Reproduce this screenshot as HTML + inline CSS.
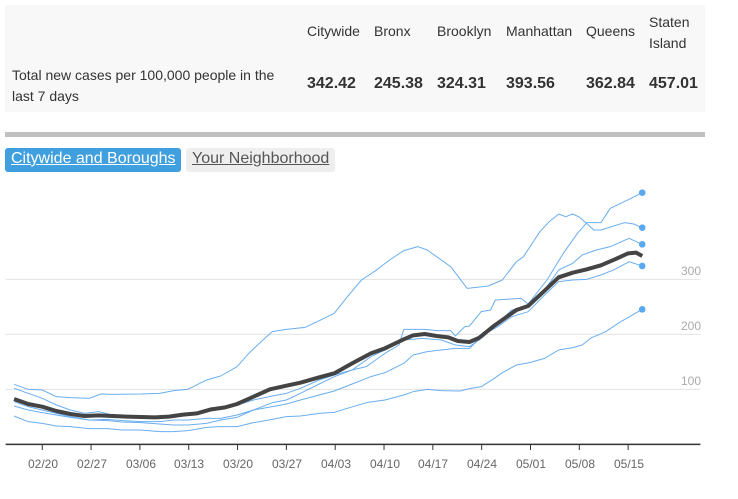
<!DOCTYPE html>
<html><head><style>
body{margin:0;width:738px;height:499px;background:#fff;font-family:"Liberation Sans",sans-serif;position:relative;overflow:hidden;color:#333}
.p{position:absolute;white-space:nowrap}
.h{font-size:14px;color:#333}
.v{font-size:16px;font-weight:bold;color:#333}
</style></head><body>
<div class="p" style="left:5px;top:5px;width:700px;height:107px;background:#f8f8f8"></div>
<div class="p h" style="left:307px;top:23px">Citywide</div>
<div class="p h" style="left:374px;top:23px">Bronx</div>
<div class="p h" style="left:437px;top:23px">Brooklyn</div>
<div class="p h" style="left:506px;top:23px">Manhattan</div>
<div class="p h" style="left:586px;top:23px">Queens</div>
<div class="p h" style="left:649px;top:12px;line-height:21px">Staten<br>Island</div>
<div class="p h" style="left:12px;top:65px;line-height:21px">Total new cases per 100,000 people in the<br>last 7 days</div>
<div class="p v" style="left:307px;top:75px">342.42</div>
<div class="p v" style="left:374px;top:75px">245.38</div>
<div class="p v" style="left:437px;top:75px">324.31</div>
<div class="p v" style="left:506px;top:75px">393.56</div>
<div class="p v" style="left:586px;top:75px">362.84</div>
<div class="p v" style="left:649px;top:75px">457.01</div>
<div class="p" style="left:5px;top:132px;width:700px;height:5px;background:#c0c0c0"></div>
<div class="p" style="left:5px;top:148px;width:176px;height:24px;background:#3f9fdf;border-radius:3px"></div>
<div class="p" style="left:11px;top:150px;font-size:16px;color:#fff;text-decoration:underline">Citywide and Boroughs</div>
<div class="p" style="left:186px;top:148px;width:149px;height:24px;background:#eee;border-radius:3px"></div>
<div class="p" style="left:192px;top:150px;font-size:16px;color:#555;text-decoration:underline">Your Neighborhood</div>

<svg class="p" style="left:0;top:180px" width="738" height="319" viewBox="0 0 1572 957" preserveAspectRatio="none">
<g stroke="#e3e3e3" stroke-width="1">
<line x1="12" x2="1492" y1="298" y2="298" vector-effect="non-scaling-stroke"/>
<line x1="12" x2="1492" y1="463" y2="463" vector-effect="non-scaling-stroke"/>
<line x1="12" x2="1492" y1="628" y2="628" vector-effect="non-scaling-stroke"/>
</g>
<line x1="12" x2="1492" y1="793" y2="793" stroke="#333" stroke-width="1.5" vector-effect="non-scaling-stroke"/>
<g stroke="#333" stroke-width="1">
<line x1="90" x2="90" y1="793" y2="810" vector-effect="non-scaling-stroke"/><line x1="194" x2="194" y1="793" y2="810" vector-effect="non-scaling-stroke"/><line x1="298" x2="298" y1="793" y2="810" vector-effect="non-scaling-stroke"/><line x1="402" x2="402" y1="793" y2="810" vector-effect="non-scaling-stroke"/><line x1="506" x2="506" y1="793" y2="810" vector-effect="non-scaling-stroke"/><line x1="610" x2="610" y1="793" y2="810" vector-effect="non-scaling-stroke"/><line x1="714" x2="714" y1="793" y2="810" vector-effect="non-scaling-stroke"/><line x1="818" x2="818" y1="793" y2="810" vector-effect="non-scaling-stroke"/><line x1="922" x2="922" y1="793" y2="810" vector-effect="non-scaling-stroke"/><line x1="1026" x2="1026" y1="793" y2="810" vector-effect="non-scaling-stroke"/><line x1="1130" x2="1130" y1="793" y2="810" vector-effect="non-scaling-stroke"/><line x1="1234" x2="1234" y1="793" y2="810" vector-effect="non-scaling-stroke"/><line x1="1338" x2="1338" y1="793" y2="810" vector-effect="non-scaling-stroke"/>
</g>
<g fill="none" stroke="#6aaef0" stroke-width="1" stroke-linejoin="round">
<polyline vector-effect="non-scaling-stroke" points="30,708 60,725 90,730 120,738 150,740 190,746 230,746 260,750 300,750 340,755 370,755 400,752 440,742 470,740 505,740 540,728 580,718 610,710 640,708 680,700 712,697 740,685 780,668 820,660 860,645 880,635 910,628 940,632 980,633 1000,626 1025,620 1050,598 1070,578 1100,555 1130,547 1160,535 1190,510 1220,503 1240,495 1260,473 1290,455 1320,427 1368,388"/>
<polyline vector-effect="non-scaling-stroke" points="30,613 60,628 90,630 120,650 150,653 190,655 215,642 240,643 300,642 340,640 370,632 400,628 440,600 470,588 505,560 530,520 560,480 580,455 610,448 650,442 680,422 712,400 740,350 770,300 800,272 830,240 860,212 890,200 910,210 940,240 960,260 995,325 1040,318 1070,300 1100,245 1115,230 1150,155 1170,125 1190,102 1205,110 1220,102 1235,112 1265,150 1280,150 1330,128 1350,132 1368,143"/>
<polyline vector-effect="non-scaling-stroke" points="30,678 60,690 90,698 120,705 150,712 190,720 230,722 260,726 300,728 340,732 370,735 400,735 440,730 470,720 505,712 540,690 580,668 610,660 640,640 680,612 712,590 750,570 780,560 820,520 850,495 860,448 905,448 930,452 960,452 970,468 990,440 1000,438 1025,395 1045,390 1055,360 1110,355 1125,372 1165,300 1200,220 1230,160 1250,128 1280,128 1300,85 1340,58 1368,38"/>
<polyline vector-effect="non-scaling-stroke" points="30,625 60,640 90,655 120,675 150,690 180,700 210,695 240,705 300,712 340,715 380,710 410,700 440,690 470,685 505,675 540,660 580,648 610,640 640,625 680,600 712,585 750,570 790,530 820,510 860,480 900,475 940,480 970,495 1000,500 1030,470 1060,430 1090,390 1125,380 1160,330 1190,270 1220,250 1240,225 1270,210 1300,200 1340,175 1368,193"/>
<polyline vector-effect="non-scaling-stroke" points="30,665 60,680 90,690 120,700 150,710 190,720 230,718 260,722 300,725 340,725 370,720 400,720 440,715 470,715 505,705 540,690 580,680 610,672 640,660 680,645 712,633 750,612 790,590 820,578 860,550 880,525 910,515 940,510 970,505 1000,505 1030,465 1060,440 1090,410 1125,395 1160,345 1190,305 1220,300 1250,298 1280,285 1310,268 1340,245 1368,258"/>
</g>
<polyline vector-effect="non-scaling-stroke" fill="none" stroke="#444" stroke-width="4" stroke-linejoin="round" points="30,657 60,672 90,680 120,693 150,702 180,708 210,706 240,708 270,710 300,711 330,712 360,710 390,704 420,700 450,688 480,682 505,672 540,650 575,628 610,617 640,608 680,592 712,580 750,550 790,520 820,505 860,478 880,466 905,462 930,468 955,472 975,483 1000,486 1020,474 1050,440 1080,410 1100,390 1125,378 1160,332 1190,292 1220,278 1250,268 1280,256 1310,238 1338,220 1355,218 1368,228"/>
<g fill="#5aa8f0">
<ellipse cx="1368" cy="38" rx="7" ry="10"/><ellipse cx="1368" cy="143" rx="7" ry="10"/><ellipse cx="1368" cy="193" rx="7" ry="10"/><ellipse cx="1368" cy="258" rx="7" ry="10"/><ellipse cx="1368" cy="388" rx="7" ry="10"/>
</g>
</svg>
<div class="p" style="left:681px;top:264px;font-size:12px;color:#aaa">300</div>
<div class="p" style="left:681px;top:319px;font-size:12px;color:#aaa">200</div>
<div class="p" style="left:681px;top:374px;font-size:12px;color:#aaa">100</div>
<div class="p" style="left:28px;top:457px;font-size:12px;color:#666;width:620px">
<span class="p" style="left:0">02/20</span><span class="p" style="left:49px">02/27</span><span class="p" style="left:98px">03/06</span><span class="p" style="left:146px">03/13</span><span class="p" style="left:195px">03/20</span><span class="p" style="left:244px">03/27</span><span class="p" style="left:293px">04/03</span><span class="p" style="left:342px">04/10</span><span class="p" style="left:390px">04/17</span><span class="p" style="left:439px">04/24</span><span class="p" style="left:488px">05/01</span><span class="p" style="left:537px">05/08</span><span class="p" style="left:586px">05/15</span>
</div>
</body></html>
